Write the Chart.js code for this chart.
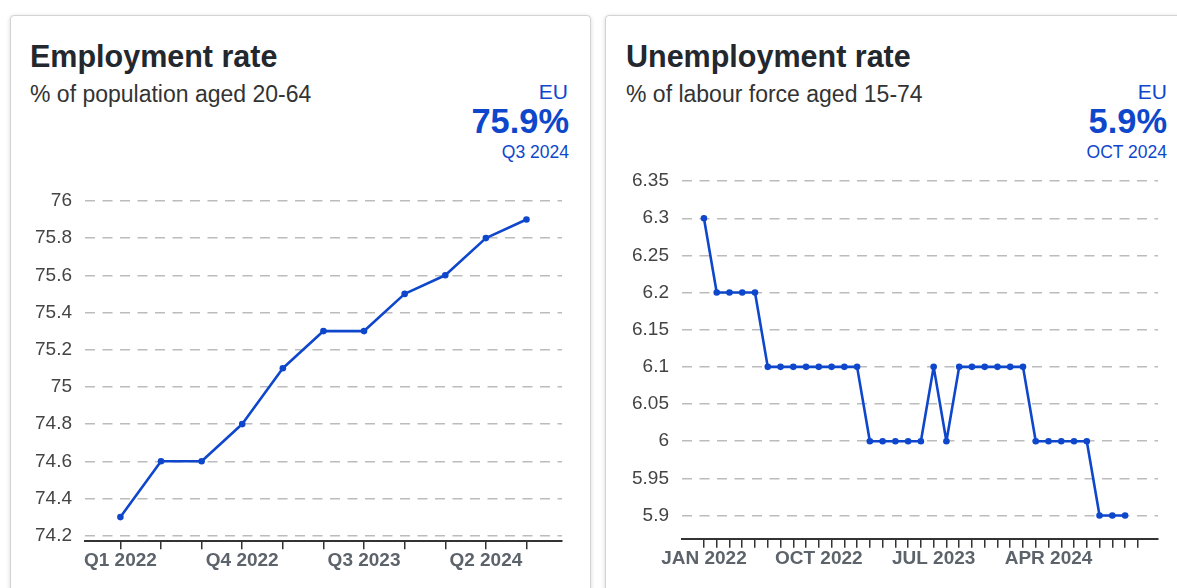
<!DOCTYPE html>
<html>
<head>
<meta charset="utf-8">
<title>Employment and unemployment rate</title>
<script src="https://cdn.jsdelivr.net/npm/chart.js@4.4.1/dist/chart.umd.min.js"></script>
<style>
    body { margin: 0; background: #fff; width: 1177px; height: 588px; overflow: hidden; position: relative;
           font-family: "Liberation Sans", Arial, sans-serif; }
    .card { position: absolute; top: 15px; height: 620px; background: #fff; border: 1px solid #d3d3d3;
            border-radius: 4px; box-shadow: 0 1px 4px rgba(0,0,0,0.16); }
    .txt { position: absolute; line-height: 1; white-space: nowrap; }
    .title { font-size: 30.5px; font-weight: bold; color: #23272e; top: 41px; }
    .sub { font-size: 23px; color: #333; top: 82.5px; }
    .geo { font-size: 21px; color: #0e47cb; top: 81px; }
    .val { font-size: 34.4px; font-weight: bold; color: #0e47cb; top: 104px; }
    .period { font-size: 17.5px; color: #0e47cb; top: 143.5px; }
    .box { position: absolute; }
</style>
</head>
<body>
<div class="card" style="left:10px; width:579px;"></div>
<div class="card" style="left:605px; width:620px;"></div>

<div class="txt title" style="left:30px;">Employment rate</div>
<div class="txt sub" style="left:30px;">% of population aged 20-64</div>
<div class="txt geo" style="right:609px;">EU</div>
<div class="txt val" style="right:608px;">75.9%</div>
<div class="txt period" style="right:608px;">Q3 2024</div>

<div class="txt title" style="left:626px;">Unemployment rate</div>
<div class="txt sub" style="left:626px;">% of labour force aged 15-74</div>
<div class="txt geo" style="right:10px;">EU</div>
<div class="txt val" style="right:10px;">5.9%</div>
<div class="txt period" style="right:10px;">OCT 2024</div>

<div class="box" style="left:0; top:170px; width:600px; height:418px;"><canvas id="empChart"></canvas></div>
<div class="box" style="left:600px; top:150px; width:577px; height:438px;"><canvas id="unempChart"></canvas></div>

<script>
// employment rate, quarterly
const empQuarters = ['Q1 2022', 'Q2 2022', 'Q3 2022', 'Q4 2022', 'Q1 2023', 'Q2 2023',
                     'Q3 2023', 'Q4 2023', 'Q1 2024', 'Q2 2024', 'Q3 2024'];
const empValues = [74.3, 74.6, 74.6, 74.8, 75.1, 75.3, 75.3, 75.5, 75.6, 75.8, 75.9];
const empShown = ['Q1 2022', 'Q4 2022', 'Q3 2023', 'Q2 2024'];

// unemployment rate, monthly (axis runs one month past the last value)
const unempMonths = ['JAN 2022', 'FEB 2022', 'MAR 2022', 'APR 2022', 'MAY 2022', 'JUN 2022',
                     'JUL 2022', 'AUG 2022', 'SEP 2022', 'OCT 2022', 'NOV 2022', 'DEC 2022',
                     'JAN 2023', 'FEB 2023', 'MAR 2023', 'APR 2023', 'MAY 2023', 'JUN 2023',
                     'JUL 2023', 'AUG 2023', 'SEP 2023', 'OCT 2023', 'NOV 2023', 'DEC 2023',
                     'JAN 2024', 'FEB 2024', 'MAR 2024', 'APR 2024', 'MAY 2024', 'JUN 2024',
                     'JUL 2024', 'AUG 2024', 'SEP 2024', 'OCT 2024', 'NOV 2024'];
const unempValues = [6.3, 6.2, 6.2, 6.2, 6.2, 6.1, 6.1, 6.1, 6.1, 6.1, 6.1, 6.1, 6.1,
                     6.0, 6.0, 6.0, 6.0, 6.0, 6.1, 6.0, 6.1, 6.1, 6.1, 6.1, 6.1, 6.1,
                     6.0, 6.0, 6.0, 6.0, 6.0, 5.9, 5.9, 5.9];
const unempShown = ['JAN 2022', 'OCT 2022', 'JUL 2023', 'APR 2024'];

const BLUE = '#0e47cb';
Chart.defaults.font.family = '"Liberation Sans", Arial, sans-serif';

function makeChart(id, labels, values, shown, opt) {
    const lastTick = labels.length - 1;
    return new Chart(document.getElementById(id), {
        type: 'line',
        data: {
            datasets: [{
                data: values.map((v, i) => ({ x: i, y: v })),
                borderColor: BLUE,
                backgroundColor: BLUE,
                borderWidth: 2.6,
                borderJoinStyle: 'round',
                borderCapStyle: 'round',
                pointRadius: 3.3,
                pointBorderWidth: 0,
                tension: 0
            }]
        },
        options: {
            responsive: true,
            maintainAspectRatio: false,
            animation: false,
            layout: { padding: opt.padding },
            plugins: { legend: { display: false }, tooltip: { enabled: false } },
            scales: {
                x: {
                    type: 'linear',
                    min: opt.xMin,
                    max: opt.xMax,
                    afterFit: s => { s.height = opt.xHeight; },
                    afterBuildTicks: s => { s.ticks = s.ticks.filter(t => t.value >= 0 && t.value <= lastTick); },
                    ticks: {
                        stepSize: 1,
                        maxTicksLimit: 200,
                        autoSkip: false,
                        maxRotation: 0,
                        minRotation: 0,
                        includeBounds: false,
                        padding: 0,
                        color: '#5d636b',
                        font: { size: 19, weight: 'bold' },
                        callback: v => shown.includes(labels[v]) ? labels[v] : ''
                    },
                    grid: { drawOnChartArea: false, drawTicks: true, tickLength: 8.5, color: '#333', lineWidth: 1.5 },
                    border: { display: true, color: '#333', width: 2 }
                },
                y: {
                    min: opt.yMin,
                    max: opt.yMax,
                    afterFit: s => { s.width = opt.yWidth; },
                    ticks: {
                        stepSize: opt.yStep,
                        includeBounds: false,
                        padding: 13,
                        color: '#444',
                        font: { size: 19 },
                        callback: v => String(+v.toFixed(2))
                    },
                    grid: { drawTicks: false, color: '#bcbcbc', lineWidth: 1.4 },
                    border: { display: false, dash: [10, 7.5] }
                }
            }
        }
    });
}

makeChart('empChart', empQuarters, empValues, empShown, {
    padding: { top: 30.7, right: 38, bottom: 0, left: 0 },
    xMin: -0.872, xMax: 10.875, xHeight: 47.3,
    yMin: 74.173, yMax: 76.001, yStep: 0.2, yWidth: 85
});

makeChart('unempChart', unempMonths, unempValues, unempShown, {
    padding: { top: 30.7, right: 19, bottom: 0, left: 0 },
    xMin: -1.72, xMax: 35.58, xHeight: 48.7,
    yMin: 5.868, yMax: 6.3505, yStep: 0.05, yWidth: 82
});
</script>
</body>
</html>
